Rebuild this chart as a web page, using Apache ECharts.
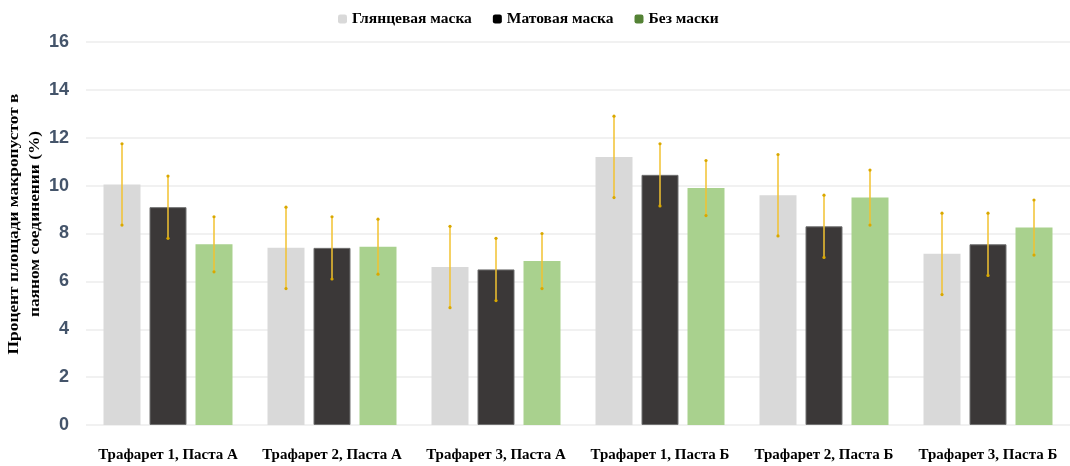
<!DOCTYPE html>
<html>
<head>
<meta charset="utf-8">
<script src="https://cdn.jsdelivr.net/npm/echarts@6/dist/echarts.min.js"></script>
<style>
  html, body { margin: 0; padding: 0; background: #fff; }
  #chart { width: 1070px; height: 466px; }
</style>
</head>
<body>
<div id="chart"></div>
<script>
// данные
const categories = ['Трафарет 1, Паста А', 'Трафарет 2, Паста А', 'Трафарет 3, Паста А',
  'Трафарет 1, Паста Б', 'Трафарет 2, Паста Б', 'Трафарет 3, Паста Б'];
const seriesNames = ['Глянцевая маска', 'Матовая маска', 'Без маски'];
const glossy = [10.05, 7.4, 6.6, 11.2, 9.6, 7.15];
const matte = [9.1, 7.4, 6.5, 10.45, 8.3, 7.55];
const noMask = [7.55, 7.45, 6.85, 9.9, 9.5, 8.25];
const glossyErr = [1.7, 1.7, 1.7, 1.7, 1.7, 1.7];
const matteErr = [1.3, 1.3, 1.3, 1.3, 1.3, 1.3];
const noMaskErr = [1.15, 1.15, 1.15, 1.15, 1.15, 1.15];
const yTicks = [0, 2, 4, 6, 8, 10, 12, 14, 16];

const barW = 37;
const barGapPx = 9;
const serif = 'Liberation Serif';

const chart = echarts.init(document.getElementById('chart'));

// усы погрешностей
function errorSeries(values, errs, k) {
  return {
    type: 'custom',
    z: 10,
    silent: true,
    data: values.map((v, i) => [i, v, errs[i]]),
    renderItem: function (params, api) {
      const i = api.value(0), v = api.value(1), e = api.value(2);
      const x = api.coord([i, v])[0] + (k - 1) * (barW + barGapPx);
      const top = api.coord([i, v + e])[1];
      const bot = api.coord([i, v - e])[1];
      const c = '#f2c230';
      return {
        type: 'group',
        children: [
          { type: 'line', shape: { x1: x, y1: top, x2: x, y2: bot }, style: { stroke: c, lineWidth: 1.5 } },
          { type: 'circle', shape: { cx: x, cy: top, r: 1.6 }, style: { fill: '#d9a800' } },
          { type: 'circle', shape: { cx: x, cy: bot, r: 1.6 }, style: { fill: '#d9a800' } }
        ]
      };
    }
  };
}

const option = {
  backgroundColor: '#ffffff',
  animation: false,
  legend: {
    left: 333,
    top: 6,
    itemWidth: 9,
    itemHeight: 9,
    itemGap: 21,
    textStyle: { fontFamily: serif, fontWeight: 'bold', fontSize: 15.5, color: '#000' },
    data: [
      { name: seriesNames[0], itemStyle: { color: '#d9d9d9' } },
      { name: seriesNames[1], itemStyle: { color: '#000000', borderWidth: 0 } },
      { name: seriesNames[2], itemStyle: { color: '#548235' } }
    ]
  },
  grid: { left: 86, top: 42, width: 995, height: 383 },
  xAxis: {
    type: 'category',
    data: categories,
    axisLine: { show: false },
    axisTick: { show: false },
    axisLabel: {
      margin: 23,
      interval: 0,
      fontFamily: serif,
      fontWeight: 'bold',
      fontSize: 15,
      color: '#000'
    }
  },
  yAxis: {
    type: 'value',
    min: 0,
    max: yTicks[yTicks.length - 1],
    interval: 2,
    axisLine: { show: false },
    axisTick: { show: false },
    splitLine: { lineStyle: { color: '#ececec', width: 1.5 } },
    axisLabel: {
      margin: 17,
      fontFamily: 'Liberation Sans',
      fontWeight: 'bold',
      fontSize: 18,
      color: '#44546a'
    }
  },
  graphic: [{
    type: 'text',
    x: 25,
    y: 224,
    rotation: Math.PI / 2,
    scaleX: 1.24,
    style: {
      text: 'Процент площади макропустот в\nпаяном соединении (%)',
      fontFamily: serif,
      fontWeight: 'bold',
      fontSize: 14,
      lineHeight: 21,
      fill: '#000',
      align: 'center',
      verticalAlign: 'middle'
    }
  }],
  series: [
    {
      name: seriesNames[0], type: 'bar', data: glossy,
      barWidth: barW, barGap: (barGapPx / barW * 100) + '%',
      itemStyle: { color: '#d9d9d9' }
    },
    {
      name: seriesNames[1], type: 'bar', data: matte,
      barWidth: barW,
      itemStyle: { color: '#3b3838', borderColor: '#707070', borderWidth: 1 }
    },
    {
      name: seriesNames[2], type: 'bar', data: noMask,
      barWidth: barW,
      itemStyle: { color: '#a9d18e' }
    },
    errorSeries(glossy, glossyErr, 0),
    errorSeries(matte, matteErr, 1),
    errorSeries(noMask, noMaskErr, 2)
  ]
};

chart.setOption(option);
</script>
</body>
</html>
